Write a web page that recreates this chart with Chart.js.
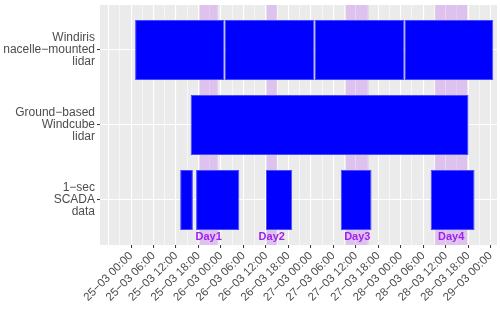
<!DOCTYPE html>
<html>
<head>
<meta charset="utf-8">
<script src="https://cdn.jsdelivr.net/npm/chart.js@4"></script>
<style>
  html, body { margin: 0; padding: 0; background: #ffffff; }
  #wrap { width: 500px; height: 309px; }
</style>
</head>
<body>
<div id="wrap"><canvas id="myChart" width="500" height="309"></canvas></div>
<script>
// Rows, top to bottom
const rowLabels = [
  ['Windiris', 'nacelle\u2212mounted', 'lidar'],
  ['Ground\u2212based', 'Windcube', 'lidar'],
  ['1\u2212sec', 'SCADA', 'data']
];
// Data periods in hours since 25-03 00:00
const windirisSegments = [[1.07, 24.88], [24.95, 48.9], [48.97, 72.92], [72.98, 96.7]];
const windcubeSegments = [[15.9, 90.1]];
const scadaSegments = [[13.1, 16.5], [17.35, 28.9], [36.0, 43.0], [56.0, 64.2], [80.0, 91.7]];
// Highlighted days
const dayNames = ['Day1', 'Day2', 'Day3', 'Day4'];
const dayStart = [18.3, 36.2, 57.4, 81.2];
const dayEnd = [23.1, 38.9, 63.4, 89.7];
// x axis ticks
const tickHours = [0, 6, 12, 18, 24, 30, 36, 42, 48, 54, 60, 66, 72, 78, 84, 90, 96];
const tickLabels = [
  '25\u221203 00:00', '25\u221203 06:00', '25\u221203 12:00', '25\u221203 18:00',
  '26\u221203 00:00', '26\u221203 06:00', '26\u221203 12:00', '26\u221203 18:00',
  '27\u221203 00:00', '27\u221203 06:00', '27\u221203 12:00', '27\u221203 18:00',
  '28\u221203 00:00', '28\u221203 06:00', '28\u221203 12:00', '28\u221203 18:00',
  '29\u221203 00:00'
];

//Build the bar data, one entry per period
let barData = [];
[windirisSegments, windcubeSegments, scadaSegments].forEach((segs, row) => {
  segs.forEach((s) => barData.push({ x: [s[0], s[1]], y: row }));
});

const panelBackground = {
  id: 'panelBackground',
  beforeDraw(chart) {
    const a = chart.chartArea, ctx = chart.ctx;
    ctx.save();
    ctx.fillStyle = '#ebebeb';
    ctx.fillRect(a.left, a.top, a.right - a.left, a.bottom - a.top);
    ctx.restore();
  }
};

//Day shading goes over the grid, under the bars
const dayShading = {
  id: 'dayShading',
  beforeDatasetsDraw(chart) {
    const a = chart.chartArea, ctx = chart.ctx, xs = chart.scales.x;
    ctx.save();
    ctx.fillStyle = 'rgba(160,32,240,0.2)';
    for (let i = 0; i < dayNames.length; i++) {
      const x1 = xs.getPixelForValue(dayStart[i]);
      const x2 = xs.getPixelForValue(dayEnd[i]);
      ctx.fillRect(x1, a.top, x2 - x1, a.bottom - a.top);
    }
    ctx.restore();
  },
  afterDatasetsDraw(chart) {
    const ctx = chart.ctx, xs = chart.scales.x, ys = chart.scales.y;
    ctx.save();
    ctx.fillStyle = '#a020f0';
    ctx.font = 'bold 11px "Liberation Sans", Arial, sans-serif';
    ctx.textAlign = 'center';
    ctx.textBaseline = 'middle';
    const y = ys.getPixelForValue(2.49);
    for (let i = 0; i < dayNames.length; i++) {
      const xm = xs.getPixelForValue((dayStart[i] + dayEnd[i]) / 2);
      ctx.fillText(dayNames[i], xm, y);
    }
    ctx.restore();
  }
};

const ctx = document.getElementById('myChart');
const myChart = new Chart(ctx, {
  type: 'bar',
  data: {
    datasets: [{
      data: barData,
      backgroundColor: '#0000ff',
      borderColor: '#4a4aff',
      borderWidth: 1,
      borderSkipped: false,
      categoryPercentage: 1,
      barPercentage: 0.8
    }]
  },
  plugins: [panelBackground, dayShading],
  options: {
    indexAxis: 'y',
    responsive: false,
    animation: false,
    layout: { padding: { left: 0, right: 3, top: 5, bottom: 0 } },
    plugins: { legend: { display: false }, tooltip: { enabled: false } },
    scales: {
      x: {
        type: 'linear',
        min: -8.3,
        max: 97.7,
        offset: false,
        afterBuildTicks(axis) {
          let t = [];
          for (let h = -6; h <= 96; h += 3) t.push({ value: h });
          axis.ticks = t;
        },
        afterFit(axis) {
          axis.height = 64;
          axis.paddingLeft = 0;
          axis.paddingRight = 0;
        },
        border: { display: false },
        grid: {
          offset: false,
          color: '#ffffff',
          lineWidth: (c) => (c.tick && c.tick.value % 6 === 0) ? 1.1 : 0.55,
          tickColor: (c) => (c.tick && tickHours.includes(c.tick.value)) ? '#333333' : 'rgba(0,0,0,0)',
          tickWidth: 1,
          tickLength: 3
        },
        ticks: {
          autoSkip: false,
          minRotation: 45,
          maxRotation: 45,
          padding: 1,
          color: '#4d4d4d',
          font: { family: '"Liberation Sans", Arial, sans-serif', size: 11.5 },
          callback: (v) => {
            const i = tickHours.indexOf(v);
            return i >= 0 ? tickLabels[i] : '';
          }
        }
      },
      y: {
        type: 'linear',
        reverse: true,
        min: -0.6,
        max: 2.6,
        offset: false,
        afterBuildTicks(axis) {
          axis.ticks = rowLabels.map((l, i) => ({ value: i }));
        },
        afterFit(axis) {
          axis.width = 100;
          axis.paddingTop = 0;
          axis.paddingBottom = 0;
        },
        border: { display: false },
        grid: {
          offset: false,
          color: '#ffffff',
          lineWidth: 1.1,
          tickColor: '#333333',
          tickWidth: 1,
          tickLength: 3
        },
        ticks: {
          padding: 2,
          color: '#4d4d4d',
          font: { family: '"Liberation Sans", Arial, sans-serif', size: 12, lineHeight: 1 },
          callback: (v) => rowLabels[v]
        }
      }
    }
  }
});
</script>
</body>
</html>
